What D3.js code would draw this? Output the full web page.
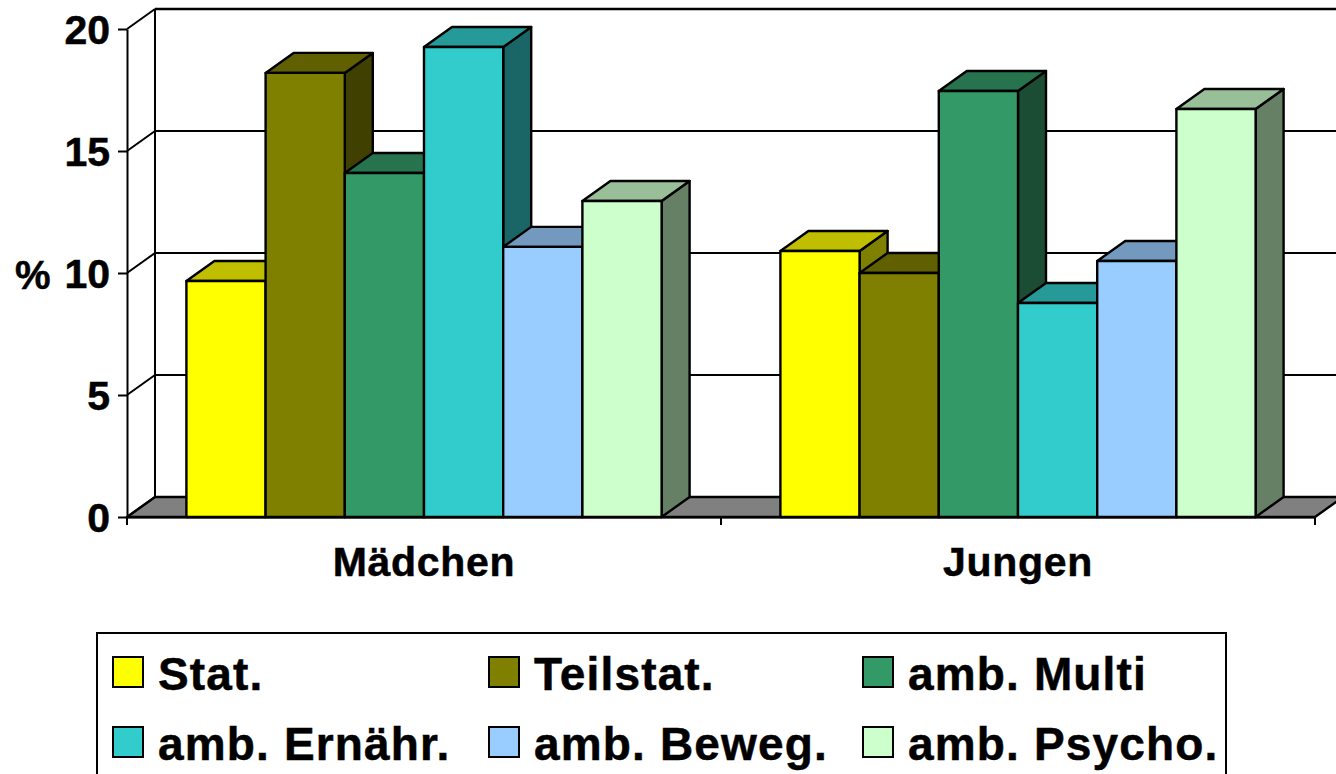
<!DOCTYPE html>
<html>
<head>
<meta charset="utf-8">
<script src="https://d3js.org/d3.v7.min.js"></script>
<style>
    body { margin: 0; background: #fff; overflow: hidden; }
    svg { display: block; }
    text { font-family: "Liberation Sans", Arial, sans-serif; font-weight: bold; fill: #000; stroke: #000; stroke-width: 0.5px; }
</style>
</head>
<body>
<svg id="canvas"></svg>
<script>
// chart data
const categories = ["Mädchen", "Jungen"];
const seriesNames = ["Stat.", "Teilstat.", "amb. Multi", "amb. Ernähr.", "amb. Beweg.", "amb. Psycho."];
const girlsValues = [9.67, 18.2, 14.1, 19.26, 11.07, 12.95];
const boysValues = [10.9, 10.0, 17.46, 8.77, 10.49, 16.72];
const yTicks = [0, 5, 10, 15, 20];
const yLabel = "%";
const colors = ["#ffff00", "#808000", "#339966", "#33cccc", "#99ccff", "#ccffcc"];

let width = 1336;
let height = 774;

// front plane of the 3d box
let left = 127;
let right = 1315;
let bottom = 517;
let top_ = 29;
let depthX = 28;
let depthY = -20;

let canvas = d3.select('#canvas');
canvas.attr('width', width);
canvas.attr('height', height);

let yScale = d3.scaleLinear().domain([0, 20]).range([bottom, top_]);
let xBand = d3.scaleBand().domain(categories).range([left, right]);
let xBar = d3.scaleBand().domain(seriesNames).range([0, xBand.bandwidth()]).paddingOuter(0.75);

let shade = (color, k) => {
    let c = d3.rgb(color);
    return d3.rgb(c.r * k, c.g * k, c.b * k).formatHex();
}

let poly = (pts, fill) => {
    canvas.append('polygon')
        .attr('points', pts.map(p => p.join(',')).join(' '))
        .attr('fill', fill)
        .attr('stroke', '#000')
        .attr('stroke-width', 2.4)
        .attr('stroke-linejoin', 'round');
}

let line = (x1, y1, x2, y2, w) => {
    canvas.append('line')
        .attr('x1', x1).attr('y1', y1)
        .attr('x2', x2).attr('y2', y2)
        .attr('stroke', '#000')
        .attr('stroke-width', w || 2);
}

let drawWalls = () => {
    // floor
    poly([[left, bottom], [left + depthX, bottom + depthY], [right + depthX, bottom + depthY], [right, bottom]], '#808080');

    yTicks.forEach(t => {
        let y = yScale(t);
        line(left, y, left + depthX, y + depthY);
        line(left + depthX, y + depthY, right + depthX, y + depthY, t === 20 ? 2.5 : 2);
    });
    line(left + depthX, yScale(20) + depthY, left + depthX, bottom + depthY);
}

let drawBars = () => {
    let drawGroup = (cat, values) => {
        values.forEach((v, i) => {
            let x = xBand(cat) + xBar(seriesNames[i]);
            let w = xBar.bandwidth();
            let y = yScale(v);
            poly([[x + w, y], [x + w + depthX, y + depthY], [x + w + depthX, bottom + depthY], [x + w, bottom]], shade(colors[i], 0.5));
            poly([[x, y], [x + depthX, y + depthY], [x + w + depthX, y + depthY], [x + w, y]], shade(colors[i], 0.75));
            poly([[x, y], [x + w, y], [x + w, bottom], [x, bottom]], colors[i]);
        });
    }
    drawGroup(categories[0], girlsValues);
    drawGroup(categories[1], boysValues);
}

let drawAxes = () => {
    let yAxis = d3.axisLeft(yScale).tickValues(yTicks).tickSize(9).tickPadding(8).tickSizeOuter(0);
    let gy = canvas.append('g')
        .attr('id', 'y-axis')
        .attr('transform', 'translate(' + left + ', 0)')
        .call(yAxis);
    gy.selectAll('line').attr('stroke', '#000').attr('stroke-width', 2);
    gy.select('.domain').attr('stroke', '#000').attr('stroke-width', 2);
    gy.selectAll('text')
        .attr('dy', '0.36em')
        .style('font-size', '41px');

    let xAxis = d3.axisBottom(xBand).tickSize(0).tickPadding(30);
    let gx = canvas.append('g')
        .attr('id', 'x-axis')
        .attr('transform', 'translate(0, ' + bottom + ')')
        .call(xAxis);
    gx.select('.domain').attr('stroke', '#000').attr('stroke-width', 2);
    gx.selectAll('text')
        .style('font-size', '41px')
        .style('letter-spacing', '0.7px');

    // separators between the two groups
    [left, xBand(categories[1]), right].forEach(x => line(x, bottom, x, bottom + 8));

    canvas.append('text')
        .attr('x', 15)
        .attr('y', 289)
        .style('font-size', '40px')
        .text(yLabel);
}

let drawLegend = () => {
    canvas.append('rect')
        .attr('x', 97).attr('y', 633)
        .attr('width', 1129).attr('height', 160)
        .attr('fill', '#fff')
        .attr('stroke', '#000')
        .attr('stroke-width', 2);

    let colX = [113, 489, 863];
    let rowY = [657, 727];
    seriesNames.forEach((name, i) => {
        let x = colX[i % 3];
        let y = rowY[Math.floor(i / 3)];
        canvas.append('rect')
            .attr('x', x).attr('y', y)
            .attr('width', 30).attr('height', 30)
            .attr('fill', colors[i])
            .attr('stroke', '#000')
            .attr('stroke-width', 2);
        canvas.append('text')
            .attr('x', x + 45)
            .attr('y', y + 33)
            .style('font-size', '46px')
            .style('letter-spacing', '1.15px')
            .text(name);
    });
}

drawWalls();
drawBars();
drawAxes();
drawLegend();
</script>
</body>
</html>
